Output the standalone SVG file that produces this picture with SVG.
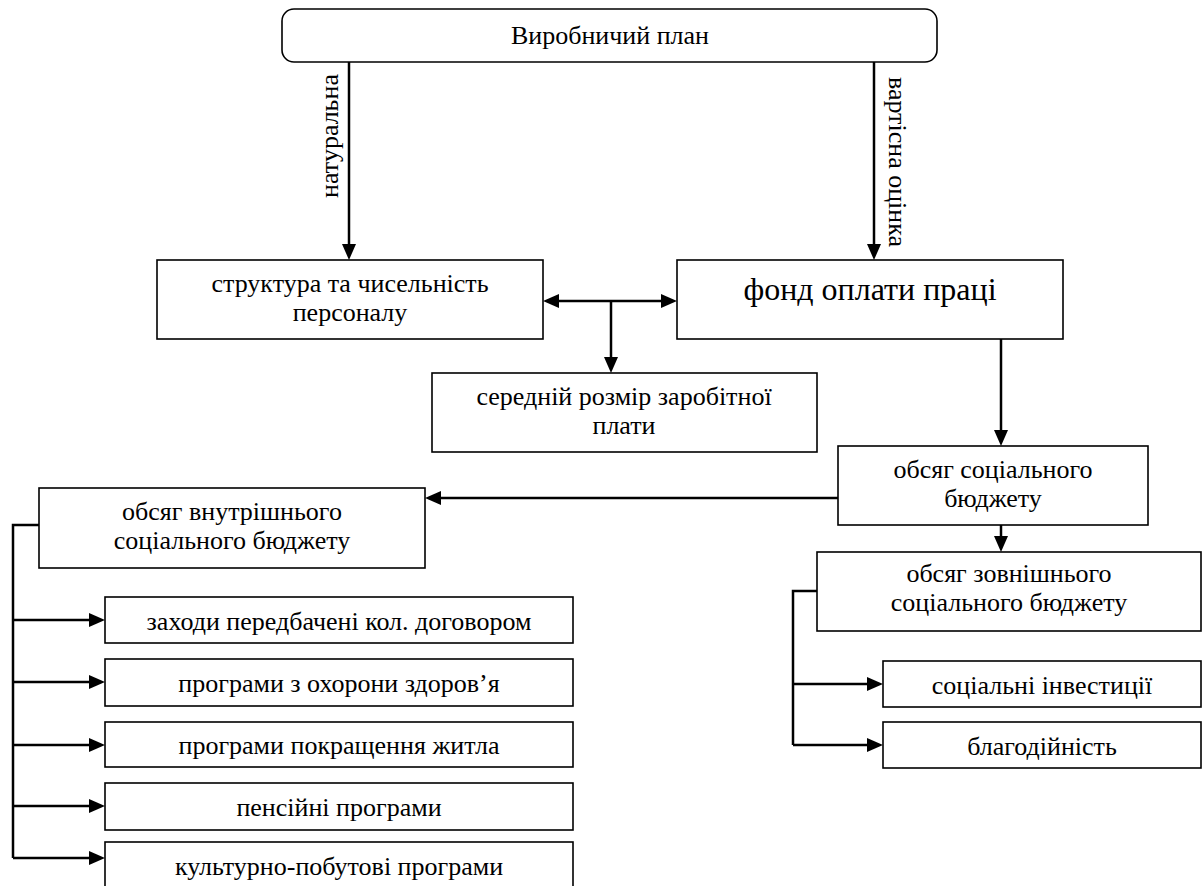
<svg xmlns="http://www.w3.org/2000/svg" width="1203" height="886" viewBox="0 0 1203 886">
<style>
  .box { fill: #ffffff; stroke: #000000; stroke-width: 1.6; }
  .t { font-family: "Liberation Serif", "Times New Roman", serif; font-size: 26px; fill: #000000; text-anchor: middle; }
  .big { font-size: 32px; }
  .ln { fill: none; stroke: #000000; stroke-width: 2.5; }
</style>
<defs>
  <marker id="ah" markerUnits="userSpaceOnUse" markerWidth="16" markerHeight="14" refX="6" refY="7" orient="auto-start-reverse" viewBox="0 0 16 14">
    <path d="M0,0 L16,7 L0,14 Z" fill="#000000"/>
  </marker>
</defs>
<rect width="1203" height="886" fill="#ffffff"/>

<g id="connectors">
  <line class="ln" x1="349" y1="62" x2="349" y2="250" marker-end="url(#ah)"/>
  <line class="ln" x1="874" y1="62" x2="874" y2="250" marker-end="url(#ah)"/>
  <line class="ln" x1="553" y1="301" x2="667" y2="301" marker-start="url(#ah)" marker-end="url(#ah)"/>
  <line class="ln" x1="611" y1="301" x2="611" y2="363" marker-end="url(#ah)"/>
  <line class="ln" x1="1001" y1="339" x2="1001" y2="436" marker-end="url(#ah)"/>
  <line class="ln" x1="838" y1="498" x2="435" y2="498" marker-end="url(#ah)"/>
  <line class="ln" x1="1001" y1="525" x2="1001" y2="542" marker-end="url(#ah)"/>
  <polyline class="ln" points="39,525 13,525 13,858"/>
  <line class="ln" x1="13" y1="620" x2="95" y2="620" marker-end="url(#ah)"/>
  <line class="ln" x1="13" y1="682" x2="95" y2="682" marker-end="url(#ah)"/>
  <line class="ln" x1="13" y1="745" x2="95" y2="745" marker-end="url(#ah)"/>
  <line class="ln" x1="13" y1="806" x2="95" y2="806" marker-end="url(#ah)"/>
  <line class="ln" x1="13" y1="858" x2="95" y2="858" marker-end="url(#ah)"/>
  <polyline class="ln" points="817,591 793,591 793,745"/>
  <line class="ln" x1="793" y1="684" x2="873" y2="684" marker-end="url(#ah)"/>
  <line class="ln" x1="793" y1="745" x2="873" y2="745" marker-end="url(#ah)"/>
</g>

<g id="label-natural">
  <text class="t" transform="translate(338,136) rotate(-90)">натуральна</text>
</g>
<g id="label-value">
  <text class="t" transform="translate(889,162) rotate(90)">вартісна оцінка</text>
</g>

<g id="plan">
  <rect class="box" x="282" y="9" width="655" height="53" rx="12" ry="12"/>
  <text class="t" x="610" y="44">Виробничий план</text>
</g>
<g id="staff">
  <rect class="box" x="157" y="260" width="386" height="79"/>
  <text class="t" x="350" y="292">структура та чисельність</text>
  <text class="t" x="350" y="321">персоналу</text>
</g>
<g id="wage-fund">
  <rect class="box" x="677" y="260" width="386" height="79"/>
  <text class="t big" x="870" y="300">фонд оплати праці</text>
</g>
<g id="avg-wage">
  <rect class="box" x="432" y="373" width="385" height="79"/>
  <text class="t" x="624" y="405">середній розмір заробітної</text>
  <text class="t" x="624" y="434">плати</text>
</g>
<g id="social-budget">
  <rect class="box" x="838" y="446" width="310" height="79"/>
  <text class="t" x="993" y="478">обсяг соціального</text>
  <text class="t" x="993" y="507">бюджету</text>
</g>
<g id="internal-budget">
  <rect class="box" x="39" y="488" width="386" height="80"/>
  <text class="t" x="232" y="520">обсяг внутрішнього</text>
  <text class="t" x="232" y="549">соціального бюджету</text>
</g>
<g id="external-budget">
  <rect class="box" x="817" y="552" width="384" height="79"/>
  <text class="t" x="1009" y="582">обсяг зовнішнього</text>
  <text class="t" x="1009" y="611">соціального бюджету</text>
</g>
<g id="collective-agreement">
  <rect class="box" x="105" y="597" width="468" height="46"/>
  <text class="t" x="339" y="630">заходи передбачені кол. договором</text>
</g>
<g id="health">
  <rect class="box" x="105" y="659" width="468" height="47"/>
  <text class="t" x="339" y="692">програми з охорони здоров’я</text>
</g>
<g id="housing">
  <rect class="box" x="105" y="722" width="468" height="45"/>
  <text class="t" x="339" y="754">програми покращення житла</text>
</g>
<g id="pension">
  <rect class="box" x="105" y="783" width="468" height="47"/>
  <text class="t" x="339" y="816">пенсійні програми</text>
</g>
<g id="cultural">
  <rect class="box" x="105" y="842" width="468" height="46"/>
  <text class="t" x="339" y="875">культурно-побутові програми</text>
</g>
<g id="social-investment">
  <rect class="box" x="883" y="661" width="318" height="46"/>
  <text class="t" x="1042" y="694">соціальні інвестиції</text>
</g>
<g id="charity">
  <rect class="box" x="883" y="722" width="318" height="46"/>
  <text class="t" x="1042" y="755">благодійність</text>
</g>
</svg>
